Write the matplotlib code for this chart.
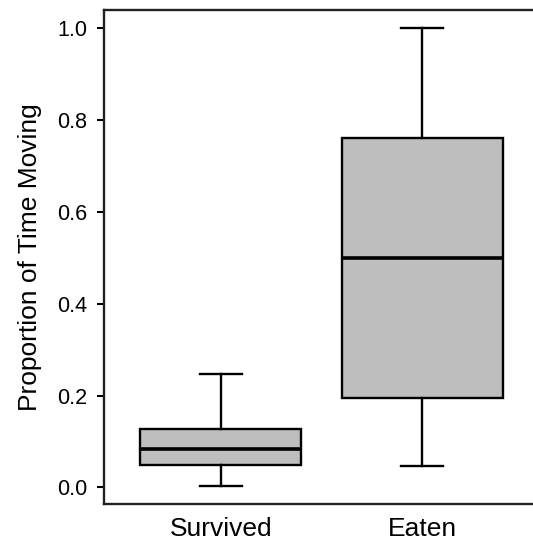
import matplotlib
matplotlib.use("Agg")
import matplotlib.pyplot as plt

plt.rcParams["font.family"] = ["Liberation Sans", "DejaVu Sans"]

# group names and five-number summaries
groups = ["Survived", "Eaten"]
whisker_low = [0.004, 0.046]
q1 = [0.050, 0.194]
medians = [0.084, 0.500]
q3 = [0.128, 0.761]
whisker_high = [0.247, 1.000]

y_ticks = [0.0, 0.2, 0.4, 0.6, 0.8, 1.0]

stats = []
for i, name in enumerate(groups):
    stats.append({
        "label": name,
        "whislo": whisker_low[i],
        "q1": q1[i],
        "med": medians[i],
        "q3": q3[i],
        "whishi": whisker_high[i],
        "fliers": [],
    })

fig = plt.figure(figsize=(5.33, 5.42), dpi=100)
ax = fig.add_axes([0.1951, 0.0701, 0.8161, 0.9114])

ax.bxp(
    stats,
    positions=[1, 2],
    widths=0.8,
    capwidths=0.21,
    patch_artist=True,
    showfliers=False,
    boxprops=dict(facecolor="#bebebe", edgecolor="black", linewidth=1.7),
    medianprops=dict(color="black", linewidth=2.6),
    whiskerprops=dict(color="black", linewidth=1.7),
    capprops=dict(color="black", linewidth=1.7),
)

ax.set_xlim(0.42, 2.58)
ax.set_ylim(-0.036, 1.04)
ax.set_yticks(y_ticks)
ax.set_yticklabels([f"{v:.1f}" for v in y_ticks])

for s in ax.spines.values():
    s.set_linewidth(1.7)
    s.set_color("#222222")
ax.spines["right"].set_visible(False)

ax.tick_params(axis="y", length=5, width=1.5, pad=7, labelsize=15.5)
ax.tick_params(axis="x", length=0, pad=9, labelsize=19)

ax.set_ylabel("Proportion of Time Moving", fontsize=19)
ax.yaxis.set_label_coords(-0.143, 0.5)

fig.savefig("out.png", dpi=100)
